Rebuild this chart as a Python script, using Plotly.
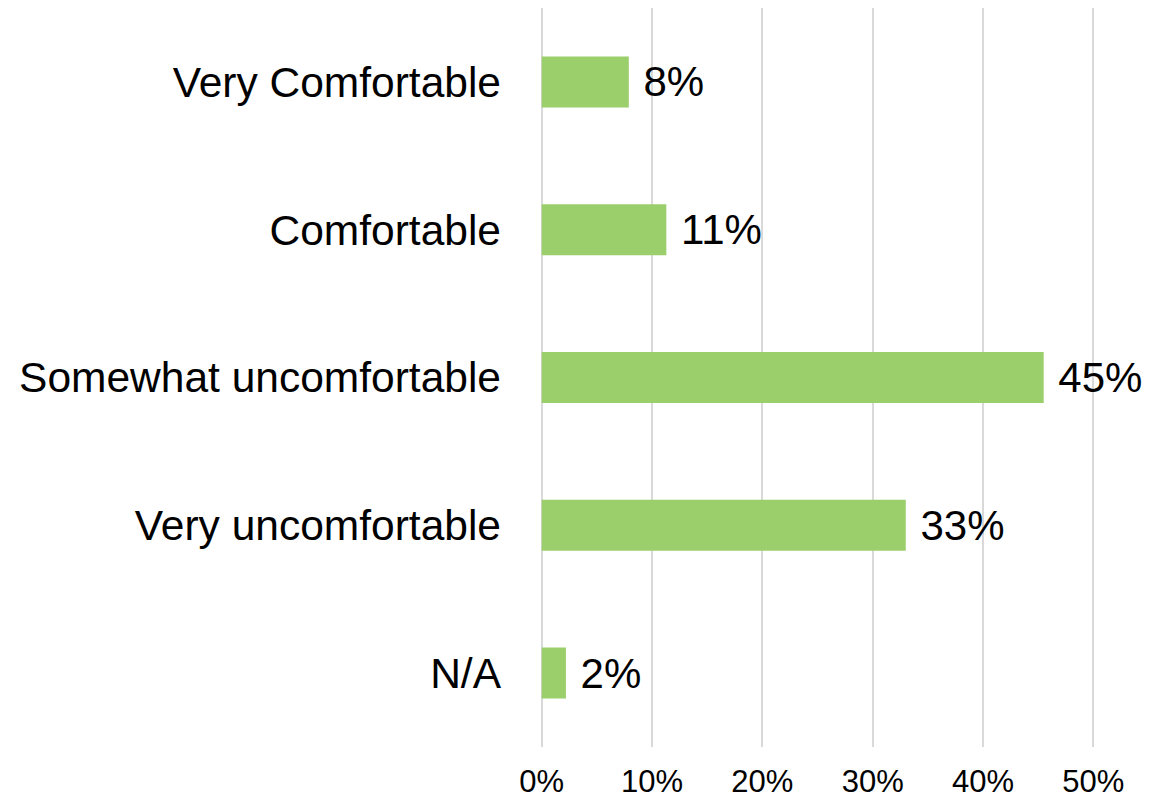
import plotly.graph_objects as go

categories = ["Very Comfortable", "Comfortable", "Somewhat uncomfortable", "Very uncomfortable", "N/A"]
values = [7.9, 11.3, 45.5, 33.0, 2.2]
labels = ["8%", "11%", "45%", "33%", "2%"]
tick_vals = [0, 10, 20, 30, 40, 50]
tick_text = ["0%", "10%", "20%", "30%", "40%", "50%"]

fig = go.Figure()
fig.add_trace(go.Bar(
    y=categories,
    x=values,
    orientation="h",
    marker=dict(color="#9BCF6B", line=dict(width=0)),
    text=[" " + t for t in labels],
    textposition="outside",
    textfont=dict(size=42, color="#000000", family="Liberation Sans, Arial, sans-serif"),
    constraintext="none",
    cliponaxis=False,
    hoverinfo="skip",
))

fig.update_layout(
    width=1166,
    height=793,
    margin=dict(l=532, r=79, t=0, b=54),
    paper_bgcolor="white",
    plot_bgcolor="white",
    bargap=0.655,
    showlegend=False,
    font=dict(family="Liberation Sans, Arial, sans-serif", color="#000000"),
    xaxis=dict(
        range=[-0.15, 50.15],
        tickvals=tick_vals,
        ticktext=tick_text,
        tickfont=dict(size=31),
        showgrid=True,
        gridcolor="#D9D9D9",
        gridwidth=2,
        zeroline=False,
        showline=False,
        ticks="",
        ticklabelstandoff=13,
        automargin=False,
        fixedrange=True,
    ),
    yaxis=dict(
        autorange="reversed",
        tickfont=dict(size=42.5),
        showgrid=False,
        zeroline=False,
        showline=False,
        ticks="",
        ticklabelstandoff=38,
        automargin=False,
        fixedrange=True,
    ),
)

fig.write_html("out.html")
